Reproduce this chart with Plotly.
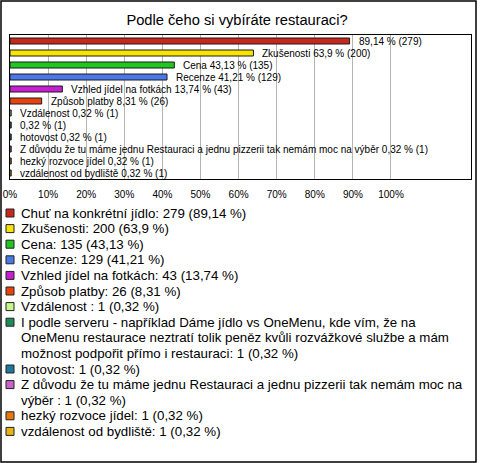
import textwrap
import plotly.graph_objects as go

# ---------------- data ----------------
categories = [
    "Chuť na konkrétní jídlo",
    "Zkušenosti",
    "Cena",
    "Recenze",
    "Vzhled jídel na fotkách",
    "Způsob platby",
    "Vzdálenost ",
    "I podle serveru - například Dáme jídlo vs OneMenu, kde vím, že na OneMenu restaurace neztratí tolik peněz kvůli rozvážkové službe a mám možnost podpořit přímo i restauraci",
    "hotovost",
    "Z důvodu že tu máme jednu Restauraci a jednu pizzerii tak nemám moc na výběr ",
    "hezký rozvoce jídel",
    "vzdálenost od bydliště",
]
counts = [279, 200, 135, 129, 43, 26, 1, 1, 1, 1, 1, 1]
percents = [89.14, 63.9, 43.13, 41.21, 13.74, 8.31, 0.32, 0.32, 0.32, 0.32, 0.32, 0.32]
bar_label_names = [
    "",
    "Zkušenosti",
    "Cena",
    "Recenze",
    "Vzhled jídel na fotkách",
    "Způsob platby",
    "Vzdálenost ",
    "",
    "hotovost",
    "Z důvodu že tu máme jednu Restauraci a jednu pizzerii tak nemám moc na výběr ",
    "hezký rozvoce jídel",
    "vzdálenost od bydliště",
]
colors = [
    "#c8281c", "#f8e400", "#1ec81e", "#4a78e8", "#c81ed2", "#e8420f",
    "#c8f58c", "#1e8c5a", "#1e7896", "#c864c8", "#e8780a", "#e6b414",
]
x_tick_values = [0, 10, 20, 30, 40, 50, 60, 70, 80, 90, 100]
x_tick_labels = ["0%", "10%", "20%", "30%", "40%", "50%", "60%", "70%", "80%", "90%", "100%"]
title_text = "Podle čeho si vybíráte restauraci?"

# ---------------- layout geometry (pixels) ----------------
W, H = 480, 463
L, R, T, B = 10, 471, 35, 179


def px(x):
    return (x - L) / (R - L)


def py(y):
    return (B - y) / (B - T)


def fmt_pct(p):
    s = f"{p:.2f}".rstrip("0").rstrip(".")
    return s.replace(".", ",")


n = len(categories)
ypos = list(range(n))

fig = go.Figure()
fig.add_trace(go.Bar(
    x=percents, y=ypos, orientation="h", width=0.5,
    marker=dict(color=colors, line=dict(color="#1a1a1a", width=1)),
    hoverinfo="skip", showlegend=False,
))

annotations = []
for i in range(n):
    lbl = (bar_label_names[i].strip() + " " + fmt_pct(percents[i]) + " % (" + str(counts[i]) + ")").strip()
    annotations.append(dict(
        x=percents[i], y=ypos[i], xref="x", yref="y", text=lbl, showarrow=False,
        xanchor="left", yanchor="middle", xshift=7,
        font=dict(family="Liberation Sans, Arial", size=10, color="#000"),
    ))

# legend drawn as text lines + squares
shapes = []
line_y0, line_step = 213, 15.6
line_idx = 0
for i in range(n):
    full = categories[i] + ": " + str(counts[i]) + " (" + fmt_pct(percents[i]) + " %)"
    lines = textwrap.wrap(full, width=70)
    yc = line_y0 + line_step * line_idx
    shapes.append(dict(
        type="rect", xref="paper", yref="paper",
        x0=px(6), x1=px(14), y0=py(yc + 4), y1=py(yc - 4),
        fillcolor=colors[i], line=dict(color="#222", width=1),
    ))
    for ln in lines:
        yl = line_y0 + line_step * line_idx
        annotations.append(dict(
            x=px(18.5), y=py(yl), xref="paper", yref="paper", text=ln, showarrow=False,
            xanchor="left", yanchor="middle",
            font=dict(family="Liberation Sans, Arial", size=13.3, color="#000"),
        ))
        line_idx += 1

# outer frame
shapes.append(dict(
    type="rect", xref="paper", yref="paper",
    x0=px(1), x1=px(476), y0=py(1), y1=py(462),
    line=dict(color="#000", width=1.5), fillcolor="rgba(0,0,0,0)", layer="below",
))

fig.update_layout(
    width=W, height=H,
    margin=dict(l=L, r=W - R, t=T, b=H - B, pad=0, autoexpand=False),
    paper_bgcolor="white", plot_bgcolor="white",
    title=dict(text=title_text, x=237 / W, xanchor="center", y=1 - 20 / H, yanchor="middle",
               font=dict(family="Liberation Sans, Arial", size=14.7, color="#000")),
    xaxis=dict(range=[0, 121], tickvals=x_tick_values, ticktext=x_tick_labels,
               showgrid=True, gridcolor="#b4b4b4", gridwidth=1, zeroline=False,
               showline=True, linecolor="#000", linewidth=1, mirror=True,
               ticks="", tickfont=dict(family="Liberation Sans, Arial", size=10, color="#000"),
               ticklabelstandoff=6, automargin=False),
    yaxis=dict(range=[n - 0.5, -0.5], showticklabels=False, showgrid=False, zeroline=False,
               showline=True, linecolor="#000", linewidth=1, mirror=True, ticks="",
               automargin=False),
    annotations=annotations, shapes=shapes,
    bargap=0.5,
)

fig.write_html(
    "out.html",
    config={"displayModeBar": False, "staticPlot": True},
    post_script="document.body.style.margin='0';document.body.style.overflow='hidden';",
)
